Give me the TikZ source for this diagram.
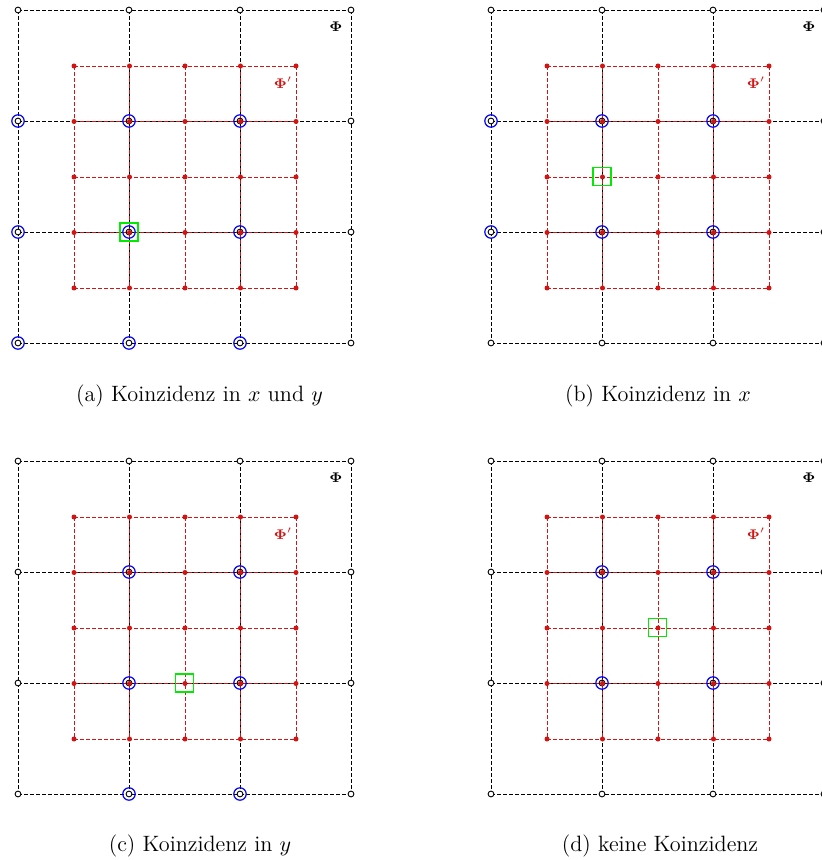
\documentclass[tikz,border=0pt]{standalone}
\usetikzlibrary{calc}
\definecolor{ptred}{RGB}{210,20,20}
\definecolor{ptblue}{RGB}{0,0,255}
\definecolor{ptgreen}{RGB}{0,235,0}
\tikzset{
  blkline/.style={draw=black, line width=0.45pt, dash pattern=on 1.9pt off 1.1pt},
  redline/.style={draw=ptred, line width=0.45pt, dash pattern=on 1.9pt off 1.1pt},
  blkpt/.style={circle, draw=black, fill=white, line width=0.45pt, inner sep=0pt, minimum size=2.9pt},
  redpt/.style={circle, fill=ptred, inner sep=0pt, minimum size=2.5pt},
  bluering/.style={circle, draw=ptblue, line width=0.6pt, inner sep=0pt, minimum size=6.2pt},
  greensq/.style={rectangle, draw=ptgreen, line width=0.6pt, inner sep=0pt, minimum size=9pt},
  philabel/.style={font=\fontsize{7.5}{8}\selectfont, inner sep=0pt},
  caption/.style={font=\fontsize{11.1}{13}\selectfont, inner sep=0pt}
}
\newcommand{\mypanel}[6]{%
  \begin{scope}[shift={(#2,#3)}]
    \foreach \i in {0,1,2,3}{
      \draw[blkline] (111*\i,0) -- (111*\i,333);
      \draw[blkline] (0,111*\i) -- (333,111*\i);
    }
    \foreach \i in {0,...,4}{
      \draw[redline] (56+55.5*\i,56) -- (56+55.5*\i,278);
      \draw[redline] (56,56+55.5*\i) -- (278,56+55.5*\i);
    }
    \foreach \bx in {#4}{
      \foreach \by in {#5}{
        \node[bluering] (#1-b-\bx-\by) at (\bx,\by) {};
      }
    }
    \foreach \i in {0,1,2,3}{
      \foreach \j in {0,1,2,3}{
        \node[blkpt] (#1-k-\i-\j) at (111*\i,111*\j) {};
      }
    }
    \node[greensq] (#1-sq) at (#6) {};
    \foreach \i in {0,...,4}{
      \foreach \j in {0,...,4}{
        \node[redpt] (#1-r-\i-\j) at (56+55.5*\i,56+55.5*\j) {};
      }
    }
    \node[philabel] (#1-phi) at (318,17) {$\mathbf{\Phi}$};
    \node[philabel, text=ptred] (#1-phip) at (265,73) {$\mathbf{\Phi}'$};
  \end{scope}
}
\begin{document}
\begin{tikzpicture}[x=0.5pt,y=-0.5pt]
  \useasboundingbox (0,0) rectangle (822,860);
  \mypanel{a}{18}{10}{0,111,222}{111,222,333}{111,222}
  \mypanel{b}{491}{10}{0,111,222}{111,222}{111,166.5}
  \mypanel{c}{18}{461}{111,222}{111,222,333}{166.5,222}
  \mypanel{d}{491}{461}{111,222}{111,222}{166.5,166.5}
  \node[caption] (capa) at (199.5,396) {(a) Koinzidenz in $x$ und $y$};
  \node[caption] (capb) at (658,396) {(b) Koinzidenz in $x$};
  \node[caption] (capc) at (200,846) {(c) Koinzidenz in $y$};
  \node[caption] (capd) at (660,846) {(d) keine Koinzidenz};
\end{tikzpicture}
\end{document}
